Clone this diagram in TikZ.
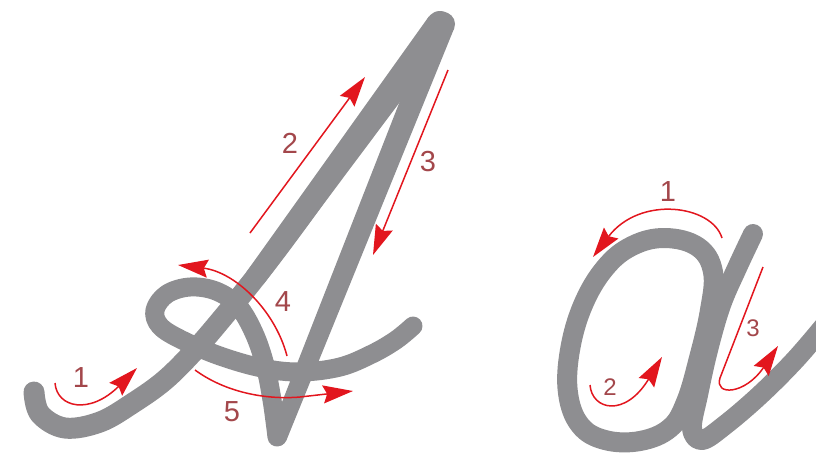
\documentclass[tikz,border=0pt]{standalone}
\usepackage{fontspec}
\setmainfont{Liberation Sans}
\usetikzlibrary{arrows.meta}
\definecolor{ink}{HTML}{8E8E91}
\definecolor{cue}{HTML}{E2161E}
\definecolor{numc}{HTML}{A3474B}

\begin{document}
\begin{tikzpicture}[x=1pt,y=-1pt,
  pen/.style={draw=ink,line width=20pt,line cap=round,line join=round},
  dir/.style={draw=cue,line width=1.5pt,-{Stealth[length=30pt,width=18pt,inset=4pt]}},
  num/.style={text=numc,font=\fontsize{29}{29}\selectfont,inner sep=0pt},
  smallnum/.style={num,font=\fontsize{24}{24}\selectfont}]
\useasboundingbox (0,0) rectangle (816,453);
% capital A: tail and left stroke
\draw[pen,line width=21pt] plot[smooth,tension=0.6] coordinates {(34,392) (40,414) (65,428) (100,422) (133,403) (165,380) (195,350) (225,315) (255,278) (290,232) (340,163) (390,93) (440,25)};
\fill[ink] (246.5,271.8) -- (428.7,16.7) -- (451.3,33.3) -- (263.5,284.2) -- cycle;
\fill[ink] (440,25) circle (14);
% right leg
\fill[ink] (431.9,19.5) -- (454.1,28.5) -- (286.4,440.3) -- (269.6,433.7) -- cycle;
\fill[ink] (443,24) circle (12);
\fill[ink] (278,437) circle (9);
% loop and cross stroke
\draw[pen,line width=19pt] plot[smooth,tension=0.6] coordinates {(277,437) (272,400) (265,365) (254,333) (238,306) (216,291) (190,287) (167,294) (155,310) (160,326) (182,340) (220,356) (262,368) (300,372) (340,367) (372,354) (396,340) (413,326)};
% small a
\draw[pen] plot[smooth cycle,tension=0.65] coordinates {(665,238) (698,247) (713,272) (710,310) (699,358) (686,402) (670,428) (640,441) (605,440) (580,425) (568,393) (570,350) (583,305) (605,268) (632,246)};
\draw[pen] plot[smooth,tension=0.6] coordinates {(753,234) (737,268) (721,305) (708,350) (698,395) (692,428) (702,440) (725,425) (760,395) (795,360) (825,325)};
% stroke order for A
\draw[dir] (55,383) .. controls (57,408) and (90,415) .. (137,368);
\draw[dir] (250,233) -- (365,77);
\draw[dir] (448,70) -- (373,255);
\draw[dir] (287,356) .. controls (275,310) and (235,272) .. (178,265);
\draw[dir] (195,370) .. controls (225,392) and (265,400) .. (300,397) -- (353,391);
\node[num] (nA1) at (81,378) {1};
\node[num] (nA2) at (290,143) {2};
\node[num] (nA3) at (428,162) {3};
\node[num] (nA4) at (283,302) {4};
\node[num] (nA5) at (232,412) {5};
% stroke order for a
\draw[dir] (722,238) .. controls (712,205) and (640,195) .. (593,257);
\draw[dir] (590,385) .. controls (592,410) and (625,418) .. (662,357);
\draw[dir] (763,267) -- (720,378) .. controls (714,396) and (745,395) .. (778,346);
\node[num] (na1) at (668,192) {1};
\node[smallnum] (na2) at (610,387) {2};
\node[smallnum] (na3) at (753,328) {3};
\end{tikzpicture}
\end{document}
